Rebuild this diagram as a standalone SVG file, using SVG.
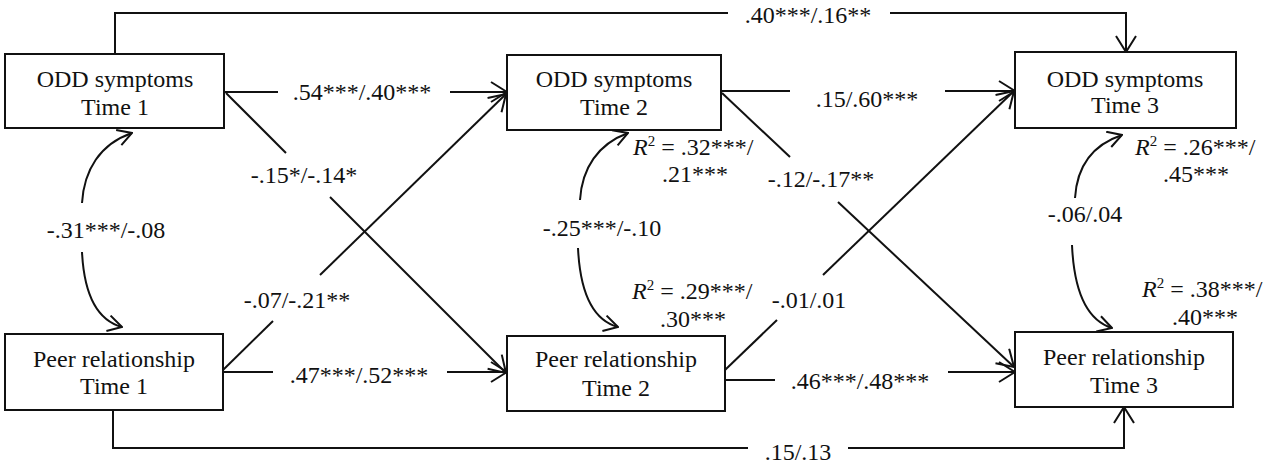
<svg xmlns="http://www.w3.org/2000/svg" width="1277" height="469" viewBox="0 0 1277 469">
<style>
text{font-family:"Liberation Serif","Times New Roman",serif;font-size:24px;fill:#111}
.box{fill:#fff;stroke:#111;stroke-width:2}
.ln{fill:none;stroke:#111;stroke-width:2}
.mid{text-anchor:middle}
.it{font-style:italic}
</style>
<defs>
<marker id="ah" viewBox="0 0 18 22" refX="17" refY="11" markerWidth="18" markerHeight="22" markerUnits="userSpaceOnUse" orient="auto">
<path d="M1,1 L17,11 L1,21" fill="none" stroke="#111" stroke-width="2"/>
</marker>
<marker id="ahs" viewBox="0 0 16 18" refX="15" refY="9" markerWidth="16" markerHeight="18" markerUnits="userSpaceOnUse" orient="auto">
<path d="M1,1 L15,9 L1,17" fill="none" stroke="#111" stroke-width="2"/>
</marker>
</defs>
<rect width="1277" height="469" fill="#fff"/>
<g id="connectors">
<path class="ln" d="M115,54 V13 H728"/>
<path class="ln" d="M890,13 H1126 V52" marker-end="url(#ah)"/>
<path class="ln" d="M113,410 V448 H748"/>
<path class="ln" d="M848,448 H1124 V407" marker-end="url(#ah)"/>
<path class="ln" d="M224,92 H278"/>
<path class="ln" d="M450,92 H507" marker-end="url(#ah)"/>
<path class="ln" d="M721,91 H790"/>
<path class="ln" d="M945,91 H1015" marker-end="url(#ah)"/>
<path class="ln" d="M223,372 H273"/>
<path class="ln" d="M447,372 H507" marker-end="url(#ah)"/>
<path class="ln" d="M725,380 H775"/>
<path class="ln" d="M948,372 H1015" marker-end="url(#ah)"/>
<path class="ln" d="M226,93 L286,153"/>
<path class="ln" d="M330,197 L506,373" marker-end="url(#ah)"/>
<path class="ln" d="M223,370 L273,321"/>
<path class="ln" d="M320,275 L506,94" marker-end="url(#ah)"/>
<path class="ln" d="M722,93 L790,157"/>
<path class="ln" d="M838,202 L1014,367" marker-end="url(#ah)"/>
<path class="ln" d="M725,370 L777,320"/>
<path class="ln" d="M823,275 L1014,91" marker-end="url(#ah)"/>
<path class="ln" d="M82,203 C84,170 100,144 132,133" marker-end="url(#ahs)"/>
<path class="ln" d="M82,252 C84,292 96,320 122,327" marker-end="url(#ahs)"/>
<path class="ln" d="M580,200 C582,168 598,144 628,133" marker-end="url(#ahs)"/>
<path class="ln" d="M578,248 C580,290 592,320 618,327" marker-end="url(#ahs)"/>
<path class="ln" d="M1075,198 C1077,166 1092,145 1122,135" marker-end="url(#ahs)"/>
<path class="ln" d="M1072,245 C1074,290 1086,320 1112,328" marker-end="url(#ahs)"/>
<text class="mid" x="808" y="23">.40***/.16**</text>
<text class="mid" x="798" y="460">.15/.13</text>
<text class="mid" x="362" y="100">.54***/.40***</text>
<text class="mid" x="867" y="107">.15/.60***</text>
<text class="mid" x="359" y="383">.47***/.52***</text>
<text class="mid" x="860" y="389">.46***/.48***</text>
<text class="mid" x="304" y="183">-.15*/-.14*</text>
<text class="mid" x="297" y="308">-.07/-.21**</text>
<text class="mid" x="821" y="187">-.12/-.17**</text>
<text class="mid" x="809" y="308">-.01/.01</text>
<text class="mid" x="106" y="238">-.31***/-.08</text>
<text class="mid" x="602" y="236">-.25***/-.10</text>
<text class="mid" x="1085" y="222">-.06/.04</text>
<text x="633" y="155"><tspan class="it">R</tspan><tspan font-size="15" dy="-9">2</tspan><tspan dy="9"> = .32***/</tspan></text>
<text x="662" y="182">.21***</text>
<text x="632" y="299"><tspan class="it">R</tspan><tspan font-size="15" dy="-9">2</tspan><tspan dy="9"> = .29***/</tspan></text>
<text x="660" y="327">.30***</text>
<text x="1135" y="155"><tspan class="it">R</tspan><tspan font-size="15" dy="-9">2</tspan><tspan dy="9"> = .26***/</tspan></text>
<text x="1163" y="182">.45***</text>
<text x="1142" y="297"><tspan class="it">R</tspan><tspan font-size="15" dy="-9">2</tspan><tspan dy="9"> = .38***/</tspan></text>
<text x="1172" y="325">.40***</text>
</g>
<g id="odd1"><rect class="box" x="5" y="54" width="219" height="74"/><text class="mid" x="115" y="87">ODD symptoms</text><text class="mid" x="115" y="115">Time 1</text></g>
<g id="peer1"><rect class="box" x="5" y="334" width="218" height="76"/><text class="mid" x="114" y="367">Peer relationship</text><text class="mid" x="114" y="394">Time 1</text></g>
<g id="odd2"><rect class="box" x="507" y="55" width="214" height="75"/><text class="mid" x="614" y="87">ODD symptoms</text><text class="mid" x="614" y="115">Time 2</text></g>
<g id="peer2"><rect class="box" x="507" y="336" width="218" height="75"/><text class="mid" x="616" y="367">Peer relationship</text><text class="mid" x="616" y="396">Time 2</text></g>
<g id="odd3"><rect class="box" x="1015" y="52" width="221" height="76"/><text class="mid" x="1125" y="87">ODD symptoms</text><text class="mid" x="1125" y="113">Time 3</text></g>
<g id="peer3"><rect class="box" x="1015" y="332" width="218" height="75"/><text class="mid" x="1124" y="365">Peer relationship</text><text class="mid" x="1124" y="393">Time 3</text></g>
</svg>
